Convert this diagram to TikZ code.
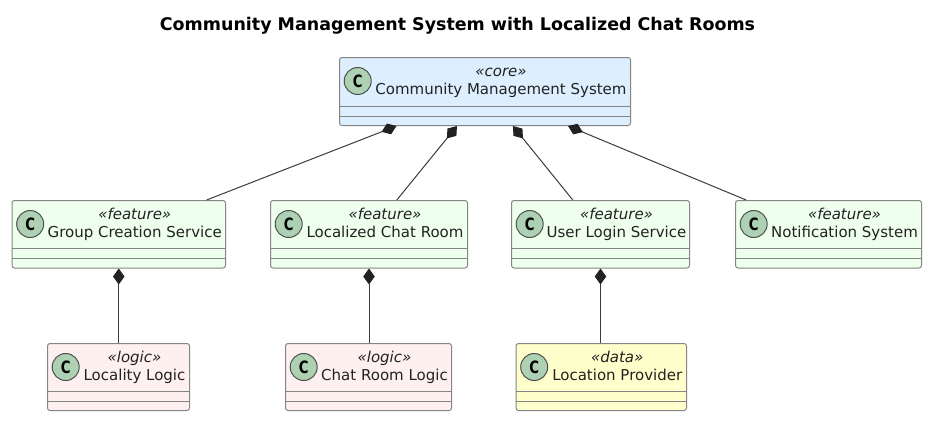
\documentclass[tikz,border=0pt]{standalone}
\usepackage{fontspec}
\setmainfont{DejaVu Sans}
\newfontfamily\spotfont[FakeStretch=0.78]{DejaVu Sans}
\usetikzlibrary{arrows.meta,calc}
\definecolor{corefill}{HTML}{DDEEFF}
\definecolor{featfill}{HTML}{EEFFEE}
\definecolor{logicfill}{HTML}{FFF0F0}
\definecolor{datafill}{HTML}{FFFFCC}
\definecolor{spotfill}{HTML}{ADD1B2}
\definecolor{edge}{HTML}{858585}
\definecolor{ink}{HTML}{222222}
\definecolor{wire}{HTML}{3C3C3C}
\tikzset{
  classbox/.style={draw=edge,line width=1pt,rounded corners=2.5pt,anchor=north west,inner sep=0pt},
  sepline/.style={draw=edge,line width=1pt},
  spot/.style={circle,draw=ink!80,line width=1pt,fill=spotfill,minimum size=27pt,inner sep=0pt,text=black,font=\spotfont\fontsize{17}{17}\selectfont\bfseries},
  stereo/.style={inner sep=0pt,anchor=base,text=ink,font=\fontsize{15}{16}\selectfont\itshape},
  ctitle/.style={inner sep=0pt,anchor=base,text=ink,font=\fontsize{15}{16}\selectfont},
  maintitle/.style={inner sep=0pt,anchor=base,text=black,font=\fontsize{17.45}{18}\selectfont\bfseries},
  comp/.style={draw=wire,line width=1pt,{Diamond[length=16pt,width=11.5pt,fill=ink,color=ink]}-},
}
% name, left, right, top, bottom, fill, stereotype, title
\newcommand{\classbar}[8]{%
  \pgfmathsetmacro{\bw}{#3-#2}\pgfmathsetmacro{\bh}{#5-#4}%
  \node[classbox,fill=#6,minimum width=\bw pt,minimum height=\bh pt] (#1) at (#2,#4) {};
  \node[spot] (#1-spot) at ($(#1.north west)+(18.7,24)$) {C};
  \node[stereo] (#1-stereo) at ($(#1.north)+(16,19.5)$) {«#7»};
  \node[ctitle] (#1-title) at ($(#1.north)+(16,37)$) {#8};
  \draw[sepline] ($(#1.south west)+(0,-20)$) -- ($(#1.south east)+(0,-20)$);
  \draw[sepline] ($(#1.south west)+(0,-10)$) -- ($(#1.south east)+(0,-10)$);
}
\begin{document}
\begin{tikzpicture}[x=1pt,y=-1pt]
\useasboundingbox (0,0) rectangle (934,423);
\fill[white] (0,0) rectangle (934,423);
\node[maintitle] (title) at (457.5,30.5) {Community Management System with Localized Chat Rooms};
\classbar{core}{339}{630}{57}{125}{corefill}{core}{Community Management System}
\classbar{group}{11.5}{225}{200}{267.5}{featfill}{feature}{Group Creation Service}
\classbar{chat}{270}{467}{200}{267.5}{featfill}{feature}{Localized Chat Room}
\classbar{login}{511}{689}{200}{267.5}{featfill}{feature}{User Login Service}
\classbar{notify}{735}{921}{200}{267.5}{featfill}{feature}{Notification System}
\classbar{locality}{47}{189}{343}{410}{logicfill}{logic}{Locality Logic}
\classbar{chatlogic}{285}{451}{343}{410}{logicfill}{logic}{Chat Room Logic}
\classbar{provider}{515.5}{686}{343}{410}{datafill}{data}{Location Provider}
\draw[comp] (core) -- (group);
\draw[comp] (core) -- (chat);
\draw[comp] (core) -- (login);
\draw[comp] (core) -- (notify);
\draw[comp] (group.south) -- (group.south |- locality.north);
\draw[comp] (chat.south) -- (chat.south |- chatlogic.north);
\draw[comp] (login.south) -- (login.south |- provider.north);
\end{tikzpicture}
\end{document}
